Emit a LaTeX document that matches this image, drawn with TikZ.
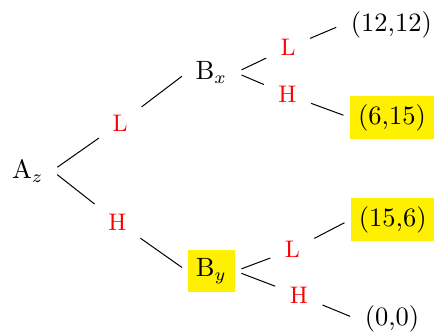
\documentclass[tikz,border=0pt]{standalone}
\usepackage{amsmath,amssymb}
\usepackage{tikz}
\usetikzlibrary{positioning,calc}
\definecolor{pick}{RGB}{255,240,0}
\tikzset{
  every node/.style={font=\fontsize{10.6}{12}\selectfont},
  move/.style={text=red,font=\fontsize{9.6}{11}\selectfont},
  chosen/.style={fill=pick},
}

\begin{document}
\begin{tikzpicture}[shorten <=2.5pt,shorten >=2.5pt]
\useasboundingbox (0,0) rectangle (6.10,4.68);
\node (Az) at (0.39,2.28) {A$_z$};
\node (Bx) at (2.97,3.66) {B$_x$};
\node[chosen] (By) at (2.97,0.87) {B$_y$};
\node (o1) at (5.50,4.33) {(12,12)};
\node[chosen] (o2) at (5.51,3.03) {(6,15)};
\node[chosen] (o3) at (5.52,1.59) {(15,6)};
\node (o4) at (5.51,0.20) {(0,0)};
\node[move] (aL) at (1.69,2.95) {L};
\node[move] (aH) at (1.65,1.56) {H};
\node[move] (bxL) at (4.05,4.01) {L};
\node[move] (bxH) at (4.04,3.35) {H};
\node[move] (byL) at (4.11,1.17) {L};
\node[move] (byH) at (4.20,0.53) {H};
\foreach \p/\m/\c in {Az/aL/Bx,Az/aH/By,Bx/bxL/o1,Bx/bxH/o2,By/byL/o3,By/byH/o4}{
  \draw (\p.east) -- (\m);
  \draw (\m) -- (\c.west);
}
\end{tikzpicture}
\end{document}
